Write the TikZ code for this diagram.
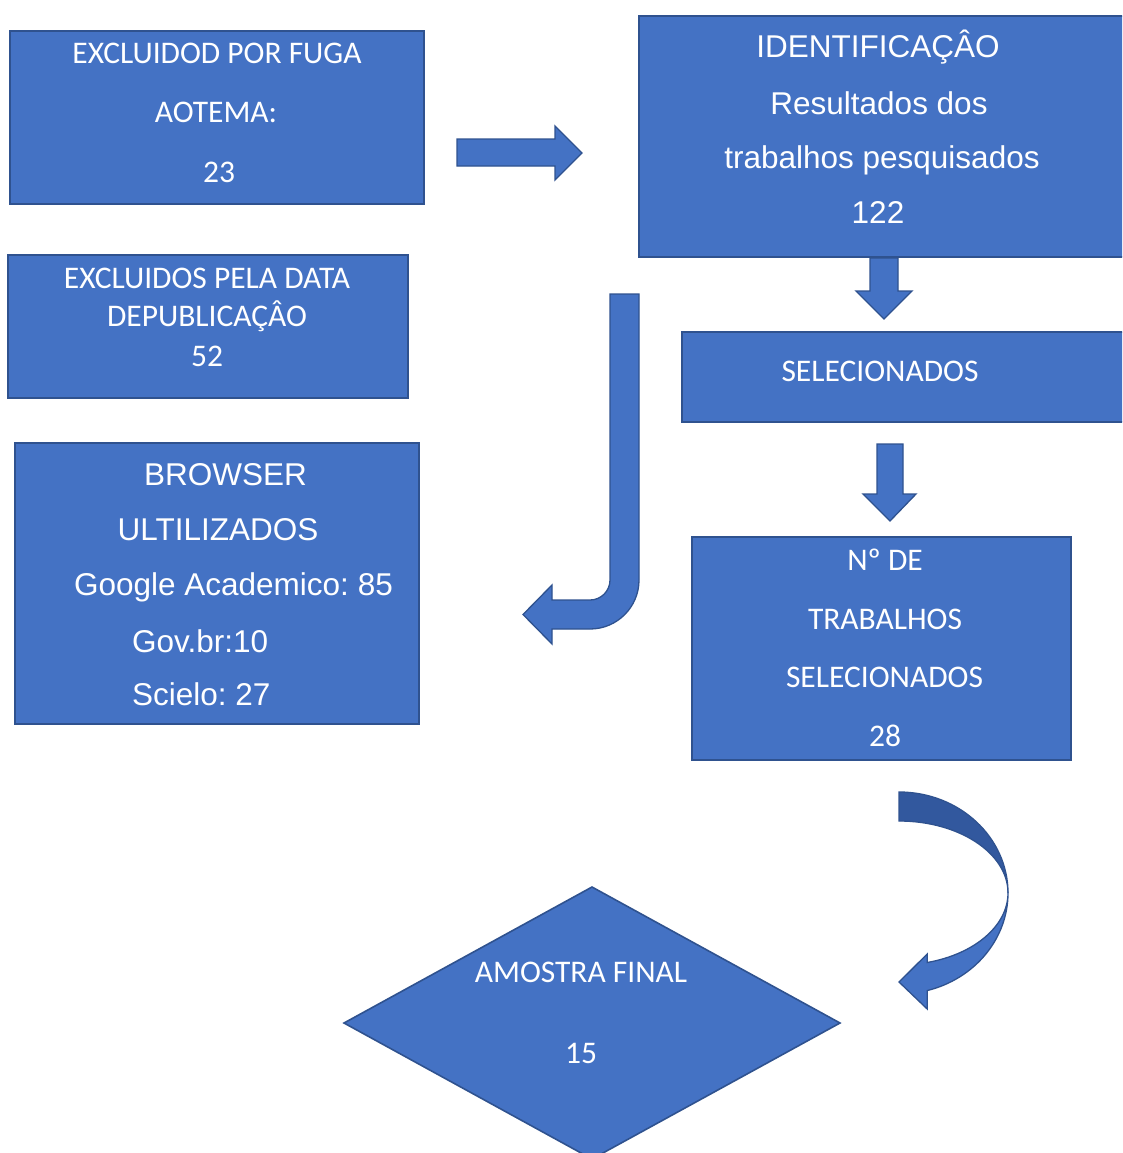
\documentclass[tikz,border=0pt]{standalone}
\usepackage{fontspec}
\setmainfont{Carlito}
\newfontfamily\arialf{Liberation Sans}
\frenchspacing
\definecolor{boxfill}{HTML}{4472C4}
\definecolor{boxline}{HTML}{2F528F}
\definecolor{backfill}{RGB}{50,88,158}
\tikzset{
  shapebox/.style={fill=boxfill, draw=boxline, line width=1.6pt},
  blockarrow/.style={fill=boxfill, draw=boxline, line width=1.3pt, line join=miter},
  backarrow/.style={fill=backfill, draw=boxline, line width=1.3pt},
  cal/.style={text=white, anchor=base, inner sep=0pt, font=\fontsize{31.5}{38}\selectfont},
  ari/.style={text=white, anchor=base, inner sep=0pt, font=\arialf\fontsize{31.5}{38}\selectfont},
  arileft/.style={ari, anchor=base west},
}
\begin{document}
\begin{tikzpicture}[x=1pt,y=-1pt]
\useasboundingbox (0,0) rectangle (1122,1153);
\clip (0,0) rectangle (1122,1153);

% boxes
\path[shapebox] (10,31) rectangle (424,204) node[pos=.5, inner sep=0] (b1) {};
\path[shapebox] (639,16) rectangle (1130,257) node[pos=.5, inner sep=0] (b2) {};
\path[shapebox] (8,255) rectangle (408,398) node[pos=.5, inner sep=0] (b3) {};
\path[shapebox] (15,443) rectangle (419,724) node[pos=.5, inner sep=0] (b4) {};
\path[shapebox] (682,332) rectangle (1130,422) node[pos=.5, inner sep=0] (b5) {};
\path[shapebox] (692,537) rectangle (1071,760) node[pos=.5, inner sep=0] (b6) {};

% diamond
\coordinate (dl) at (344,1023);
\coordinate (dt) at (592,887);
\coordinate (dr) at (840,1023);
\coordinate (db) at (592,1159);
\path[shapebox] (dl) -- (dt) -- (dr) -- (db) -- cycle;

% texts box 1
\node[cal] (t11) at (217,64) {EXCLUIDOD POR FUGA};
\node[cal] (t12) at (216,123) {AOTEMA:};
\node[cal] (t13) at (219,182) {23};
% box 2
\node[ari] (t21) at (878,58) {IDENTIFICAÇÂO};
\node[ari] (t22) at (879,114) {Resultados dos};
\node[ari] (t23) at (882,168) {trabalhos pesquisados};
\node[ari] (t24) at (878,223) {122};
% box 3
\node[cal] (t31) at (207,288) {EXCLUIDOS PELA DATA};
\node[cal] (t32) at (207,326) {DEPUBLICAÇÂO};
\node[cal] (t33) at (207,366) {52};
% box 4
\node[ari] (t41) at (225.5,485) {BROWSER};
\node[ari] (t42) at (218,540) {ULTILIZADOS};
\node[ari] (t43) at (233.5,595) {Google Academico: 85};
\node[arileft] (t44) at (132,652) {Gov.br:10};
\node[arileft] (t45) at (132,705) {Scielo: 27};
% box 5
\node[cal] (t51) at (880,381) {SELECIONADOS};
% box 6
\node[cal] (t61) at (885,570) {Nº DE};
\node[cal] (t62) at (885,629) {TRABALHOS};
\node[cal] (t63) at (884.5,687) {SELECIONADOS};
\node[cal] (t64) at (885,746) {28};
% diamond text
\node[cal] (t71) at (581,982) {AMOSTRA FINAL};
\node[cal] (t72) at (581,1063) {15};

% right block arrow
\path[blockarrow] (457,139) -- (555,139) -- (555,126) -- (582,153) -- (555,180) -- (555,166) -- (457,166) -- cycle;
% down arrow 1
\path[blockarrow] (870,258) -- (898,258) -- (898,291) -- (912,291) -- (884,319) -- (856,291) -- (870,291) -- cycle;
% down arrow 2
\path[blockarrow] (877,444) -- (903,444) -- (903,494) -- (916,494) -- (890,521) -- (863,494) -- (877,494) -- cycle;
% J arrow
\path[blockarrow] (610,294) -- (639,294) -- (639,580)
  arc[start angle=0, end angle=90, radius=49] -- (552,629) -- (552,644) -- (523,614.5) -- (552,585) -- (552,600) -- (590,600)
  arc[start angle=90, end angle=0, radius=20] -- cycle;
% curved arrow: back part
\path[backarrow] (899,792) arc[start angle=-90, end angle=0, x radius=109, y radius=101]
  arc[start angle=0, end angle=-90, x radius=109, y radius=72] -- cycle;
% curved arrow: front part
\path[blockarrow] (1008,893) arc[start angle=0, end angle=75, x radius=109, y radius=101]
  -- (927.2,1009) -- (899,982) -- (927.2,954) -- (927.2,962.5)
  arc[start angle=75, end angle=0, x radius=109, y radius=72] -- cycle;
\end{tikzpicture}
\end{document}
